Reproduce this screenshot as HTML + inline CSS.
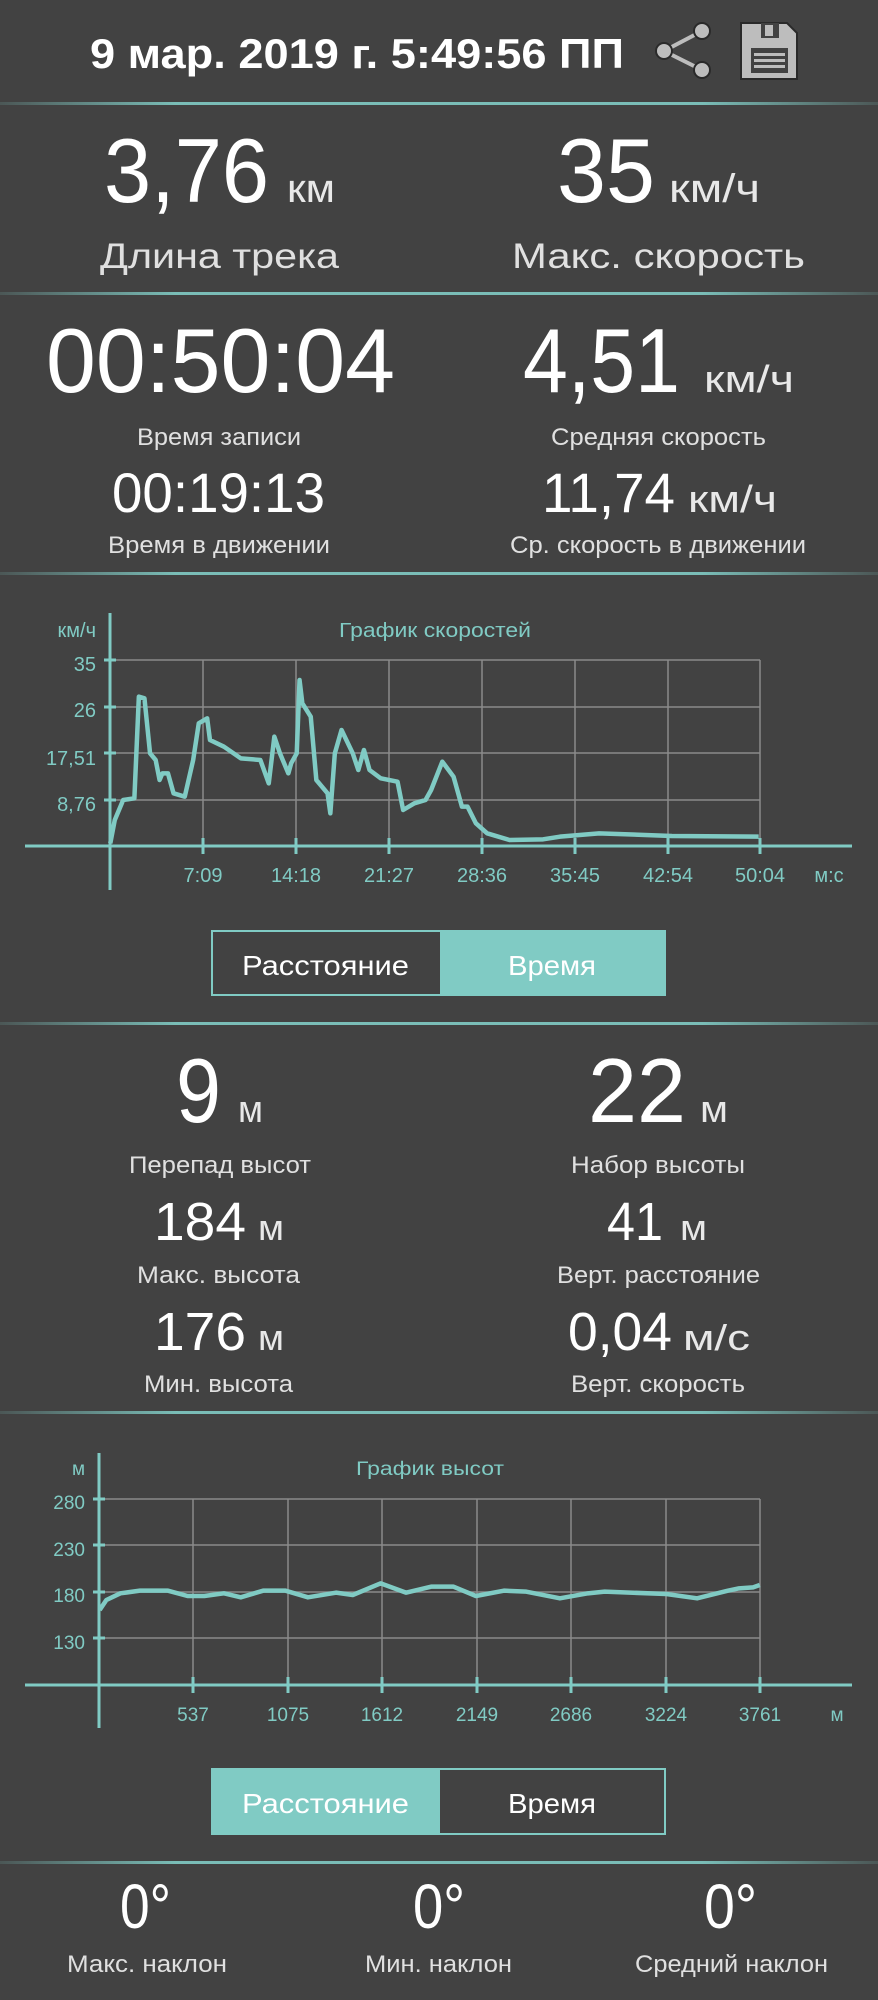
<!DOCTYPE html>
<html><head><meta charset="utf-8"><style>
html,body{margin:0;padding:0;background:#424242;}
svg{display:block;}
text{font-family:"Liberation Sans",sans-serif;}
</style></head><body>
<svg width="878" height="2000" viewBox="0 0 878 2000" xmlns="http://www.w3.org/2000/svg">
<defs>
<linearGradient id="dv" x1="0" x2="1" y1="0" y2="0">
<stop offset="0" stop-color="#80cbc4" stop-opacity="0.15"/>
<stop offset="0.2" stop-color="#80cbc4" stop-opacity="0.9"/>
<stop offset="0.8" stop-color="#80cbc4" stop-opacity="0.9"/>
<stop offset="1" stop-color="#80cbc4" stop-opacity="0.15"/>
</linearGradient>
</defs>
<rect width="878" height="2000" fill="#424242"/>

<!-- header -->
<text x="90" y="68" font-size="42" font-weight="bold" fill="#fff" textLength="534" lengthAdjust="spacingAndGlyphs">9 мар. 2019 г. 5:49:56 ПП</text>
<g stroke="#2a2a2a" stroke-width="2" fill="#bdbdbd">
<line x1="702" y1="31" x2="664" y2="51" stroke="#bdbdbd" stroke-width="4"/>
<line x1="702" y1="70" x2="664" y2="51" stroke="#bdbdbd" stroke-width="4"/>
<circle cx="702" cy="31" r="8"/><circle cx="664" cy="51" r="8"/><circle cx="702" cy="70" r="8"/>
<path d="M741 23 H787 L797 33 V79 H741 Z"/>
<rect x="761" y="23" width="18" height="15" fill="#424242" stroke="none"/>
<rect x="765" y="25" width="8" height="11" fill="#bdbdbd" stroke="none"/>
<rect x="751" y="48" width="37" height="25" fill="#424242" stroke="none"/>
<rect x="754" y="53" width="31" height="3" fill="#bdbdbd" stroke="none"/>
<rect x="754" y="59" width="31" height="3" fill="#bdbdbd" stroke="none"/>
<rect x="754" y="65" width="31" height="3" fill="#bdbdbd" stroke="none"/>
</g>
<rect x="0" y="102" width="878" height="3" fill="url(#dv)"/>

<!-- block 1 -->
<g fill="#fff">
<text x="104" y="202" font-size="91" textLength="165" lengthAdjust="spacingAndGlyphs">3,76</text>
<text x="287" y="202" font-size="40" fill="#e8e8e8" textLength="48" lengthAdjust="spacingAndGlyphs">км</text>
<text x="557" y="202" font-size="91" textLength="98" lengthAdjust="spacingAndGlyphs">35</text>
<text x="669" y="202" font-size="40" fill="#e8e8e8" textLength="91" lengthAdjust="spacingAndGlyphs">км/ч</text>
<text x="100" y="268" font-size="35" fill="#e0e0e0" textLength="239" lengthAdjust="spacingAndGlyphs">Длина трека</text>
<text x="512" y="268" font-size="35" fill="#e0e0e0" textLength="293" lengthAdjust="spacingAndGlyphs">Макс. скорость</text>
</g>
<rect x="0" y="292" width="878" height="3" fill="url(#dv)"/>

<!-- block 2 -->
<g fill="#fff">
<text x="46" y="392" font-size="91" textLength="349" lengthAdjust="spacingAndGlyphs">00:50:04</text>
<text x="523" y="392" font-size="91" textLength="157" lengthAdjust="spacingAndGlyphs">4,51</text>
<text x="704" y="392" font-size="38" fill="#e8e8e8" textLength="90" lengthAdjust="spacingAndGlyphs">км/ч</text>
<text x="137" y="445" font-size="24" fill="#e0e0e0" textLength="164" lengthAdjust="spacingAndGlyphs">Время записи</text>
<text x="551" y="445" font-size="24" fill="#e0e0e0" textLength="215" lengthAdjust="spacingAndGlyphs">Средняя скорость</text>
<text x="112" y="512" font-size="56" textLength="213" lengthAdjust="spacingAndGlyphs">00:19:13</text>
<text x="542" y="512" font-size="56" textLength="133" lengthAdjust="spacingAndGlyphs">11,74</text>
<text x="688" y="512" font-size="38" fill="#e8e8e8" textLength="89" lengthAdjust="spacingAndGlyphs">км/ч</text>
<text x="108" y="553" font-size="24" fill="#e0e0e0" textLength="222" lengthAdjust="spacingAndGlyphs">Время в движении</text>
<text x="510" y="553" font-size="24" fill="#e0e0e0" textLength="296" lengthAdjust="spacingAndGlyphs">Ср. скорость в движении</text>
</g>
<rect x="0" y="572" width="878" height="3" fill="url(#dv)"/>

<!-- speed chart -->
<g stroke="#8a8a8a" stroke-width="1.5">
<line x1="110" y1="660" x2="760" y2="660"/><line x1="110" y1="707" x2="760" y2="707"/>
<line x1="110" y1="753" x2="760" y2="753"/><line x1="110" y1="800" x2="760" y2="800"/>
<line x1="203" y1="660" x2="203" y2="846"/><line x1="296" y1="660" x2="296" y2="846"/>
<line x1="389" y1="660" x2="389" y2="846"/><line x1="482" y1="660" x2="482" y2="846"/>
<line x1="575" y1="660" x2="575" y2="846"/><line x1="668" y1="660" x2="668" y2="846"/>
<line x1="760" y1="660" x2="760" y2="846"/>
</g>
<g stroke="#80cbc4" stroke-width="3">
<line x1="25" y1="846" x2="852" y2="846"/>
<line x1="110" y1="613" x2="110" y2="890"/>
<line x1="104" y1="660" x2="116" y2="660"/><line x1="104" y1="707" x2="116" y2="707"/>
<line x1="104" y1="753" x2="116" y2="753"/><line x1="104" y1="800" x2="116" y2="800"/>
<line x1="203" y1="838" x2="203" y2="854"/><line x1="296" y1="838" x2="296" y2="854"/>
<line x1="389" y1="838" x2="389" y2="854"/><line x1="482" y1="838" x2="482" y2="854"/>
<line x1="575" y1="838" x2="575" y2="854"/><line x1="668" y1="838" x2="668" y2="854"/>
<line x1="760" y1="838" x2="760" y2="854"/>
</g>
<g transform="translate(0,580) scale(0.5599,0.33333)">
<polyline fill="none" stroke="#80cbc4" stroke-width="4.5" vector-effect="non-scaling-stroke" stroke-linejoin="round" points="197,790 205,720 220,660 240,655 248,350 258,355 268,520 278,540 285,600 290,580 300,580 310,640 330,650 345,540 355,430 370,415 375,480 400,500 430,535 465,540 480,610 490,470 500,520 515,580 520,550 530,520 535,300 540,370 555,410 565,600 585,640 590,700 598,520 610,450 630,520 640,570 650,510 660,570 680,595 710,605 720,690 740,670 760,660 770,630 790,545 810,590 825,680 835,680 850,730 870,760 910,780 970,778 1000,770 1070,760 1200,768 1355,770"/>
</g>
<g fill="#80cbc4" font-size="20">
<text x="96" y="637" text-anchor="end">км/ч</text>
<text x="339" y="637" textLength="192" lengthAdjust="spacingAndGlyphs">График скоростей</text>
<text x="96" y="671" text-anchor="end">35</text>
<text x="96" y="717" text-anchor="end">26</text>
<text x="96" y="765" text-anchor="end">17,51</text>
<text x="96" y="811" text-anchor="end">8,76</text>
<g text-anchor="middle">
<text x="203" y="882">7:09</text><text x="296" y="882">14:18</text><text x="389" y="882">21:27</text>
<text x="482" y="882">28:36</text><text x="575" y="882">35:45</text><text x="668" y="882">42:54</text>
<text x="760" y="882">50:04</text><text x="829" y="882">м:с</text>
</g>
</g>
<!-- buttons 1 -->
<rect x="212" y="931" width="453" height="64" fill="#424242" stroke="#80cbc4" stroke-width="2"/>
<rect x="440" y="931" width="225" height="64" fill="#80cbc4"/>
<text x="242" y="975" font-size="28" fill="#fff" textLength="167" lengthAdjust="spacingAndGlyphs">Расстояние</text>
<text x="508" y="975" font-size="28" fill="#fff" textLength="88" lengthAdjust="spacingAndGlyphs">Время</text>
<rect x="0" y="1022" width="878" height="3" fill="url(#dv)"/>

<!-- altitude block -->
<g fill="#fff">
<text x="176" y="1122" font-size="91" textLength="45" lengthAdjust="spacingAndGlyphs">9</text>
<text x="238" y="1122" font-size="38" fill="#e8e8e8" textLength="25" lengthAdjust="spacingAndGlyphs">м</text>
<text x="588" y="1122" font-size="91" textLength="98" lengthAdjust="spacingAndGlyphs">22</text>
<text x="700" y="1122" font-size="38" fill="#e8e8e8" textLength="28" lengthAdjust="spacingAndGlyphs">м</text>
<text x="129" y="1173" font-size="24" fill="#e0e0e0" textLength="182" lengthAdjust="spacingAndGlyphs">Перепад высот</text>
<text x="571" y="1173" font-size="24" fill="#e0e0e0" textLength="174" lengthAdjust="spacingAndGlyphs">Набор высоты</text>
<text x="154" y="1240" font-size="54" textLength="92" lengthAdjust="spacingAndGlyphs">184</text>
<text x="258" y="1240" font-size="36" fill="#e8e8e8" textLength="26" lengthAdjust="spacingAndGlyphs">м</text>
<text x="607" y="1240" font-size="54" textLength="56" lengthAdjust="spacingAndGlyphs">41</text>
<text x="680" y="1240" font-size="36" fill="#e8e8e8" textLength="27" lengthAdjust="spacingAndGlyphs">м</text>
<text x="137" y="1283" font-size="24" fill="#e0e0e0" textLength="163" lengthAdjust="spacingAndGlyphs">Макс. высота</text>
<text x="557" y="1283" font-size="24" fill="#e0e0e0" textLength="203" lengthAdjust="spacingAndGlyphs">Верт. расстояние</text>
<text x="154" y="1350" font-size="54" textLength="92" lengthAdjust="spacingAndGlyphs">176</text>
<text x="258" y="1350" font-size="36" fill="#e8e8e8" textLength="26" lengthAdjust="spacingAndGlyphs">м</text>
<text x="568" y="1350" font-size="54" textLength="104" lengthAdjust="spacingAndGlyphs">0,04</text>
<text x="683" y="1350" font-size="36" fill="#e8e8e8" textLength="67" lengthAdjust="spacingAndGlyphs">м/с</text>
<text x="144" y="1392" font-size="24" fill="#e0e0e0" textLength="149" lengthAdjust="spacingAndGlyphs">Мин. высота</text>
<text x="571" y="1392" font-size="24" fill="#e0e0e0" textLength="174" lengthAdjust="spacingAndGlyphs">Верт. скорость</text>
</g>
<rect x="0" y="1411" width="878" height="3" fill="url(#dv)"/>

<!-- altitude chart -->
<g stroke="#8a8a8a" stroke-width="1.5">
<line x1="99" y1="1499" x2="760" y2="1499"/><line x1="99" y1="1545" x2="760" y2="1545"/>
<line x1="99" y1="1592" x2="760" y2="1592"/><line x1="99" y1="1638" x2="760" y2="1638"/>
<line x1="193" y1="1499" x2="193" y2="1685"/><line x1="288" y1="1499" x2="288" y2="1685"/>
<line x1="382" y1="1499" x2="382" y2="1685"/><line x1="477" y1="1499" x2="477" y2="1685"/>
<line x1="571" y1="1499" x2="571" y2="1685"/><line x1="666" y1="1499" x2="666" y2="1685"/>
<line x1="760" y1="1499" x2="760" y2="1685"/>
</g>
<g stroke="#80cbc4" stroke-width="3">
<line x1="25" y1="1685" x2="852" y2="1685"/>
<line x1="99" y1="1453" x2="99" y2="1728"/>
<line x1="93" y1="1499" x2="105" y2="1499"/><line x1="93" y1="1545" x2="105" y2="1545"/>
<line x1="93" y1="1592" x2="105" y2="1592"/><line x1="93" y1="1638" x2="105" y2="1638"/>
<line x1="193" y1="1677" x2="193" y2="1693"/><line x1="288" y1="1677" x2="288" y2="1693"/>
<line x1="382" y1="1677" x2="382" y2="1693"/><line x1="477" y1="1677" x2="477" y2="1693"/>
<line x1="571" y1="1677" x2="571" y2="1693"/><line x1="666" y1="1677" x2="666" y2="1693"/>
<line x1="760" y1="1677" x2="760" y2="1693"/>
</g>
<g transform="translate(0,1420) scale(0.5599,0.33333)">
<polyline fill="none" stroke="#80cbc4" stroke-width="4.5" vector-effect="non-scaling-stroke" stroke-linejoin="round" points="178,570 190,540 215,520 250,512 300,512 335,528 365,528 400,520 430,532 470,512 510,512 550,532 600,518 630,525 680,490 725,518 770,500 810,500 850,528 900,512 940,515 1000,535 1050,520 1080,515 1190,522 1245,535 1300,512 1320,505 1345,502 1357,495"/>
</g>
<g fill="#80cbc4" font-size="19">
<text x="85" y="1475" text-anchor="end">м</text>
<text x="356" y="1475" textLength="148" lengthAdjust="spacingAndGlyphs">График высот</text>
<text x="85" y="1509" text-anchor="end">280</text>
<text x="85" y="1556" text-anchor="end">230</text>
<text x="85" y="1602" text-anchor="end">180</text>
<text x="85" y="1649" text-anchor="end">130</text>
<g text-anchor="middle">
<text x="193" y="1721">537</text><text x="288" y="1721">1075</text><text x="382" y="1721">1612</text>
<text x="477" y="1721">2149</text><text x="571" y="1721">2686</text><text x="666" y="1721">3224</text>
<text x="760" y="1721">3761</text><text x="837" y="1721">м</text>
</g>
</g>
<!-- buttons 2 -->
<rect x="212" y="1769" width="453" height="65" fill="#424242" stroke="#80cbc4" stroke-width="2"/>
<rect x="212" y="1769" width="228" height="65" fill="#80cbc4"/>
<text x="242" y="1813" font-size="28" fill="#fff" textLength="167" lengthAdjust="spacingAndGlyphs">Расстояние</text>
<text x="508" y="1813" font-size="28" fill="#fff" textLength="88" lengthAdjust="spacingAndGlyphs">Время</text>
<rect x="0" y="1861" width="878" height="3" fill="url(#dv)"/>

<!-- slope -->
<g fill="#fff">
<text x="120" y="1928" font-size="63" textLength="51" lengthAdjust="spacingAndGlyphs">0°</text>
<text x="413" y="1928" font-size="63" textLength="52" lengthAdjust="spacingAndGlyphs">0°</text>
<text x="704" y="1928" font-size="63" textLength="53" lengthAdjust="spacingAndGlyphs">0°</text>
<text x="67" y="1972" font-size="24" fill="#e0e0e0" textLength="160" lengthAdjust="spacingAndGlyphs">Макс. наклон</text>
<text x="365" y="1972" font-size="24" fill="#e0e0e0" textLength="147" lengthAdjust="spacingAndGlyphs">Мин. наклон</text>
<text x="635" y="1972" font-size="24" fill="#e0e0e0" textLength="193" lengthAdjust="spacingAndGlyphs">Средний наклон</text>
</g>
</svg>
</body></html>
